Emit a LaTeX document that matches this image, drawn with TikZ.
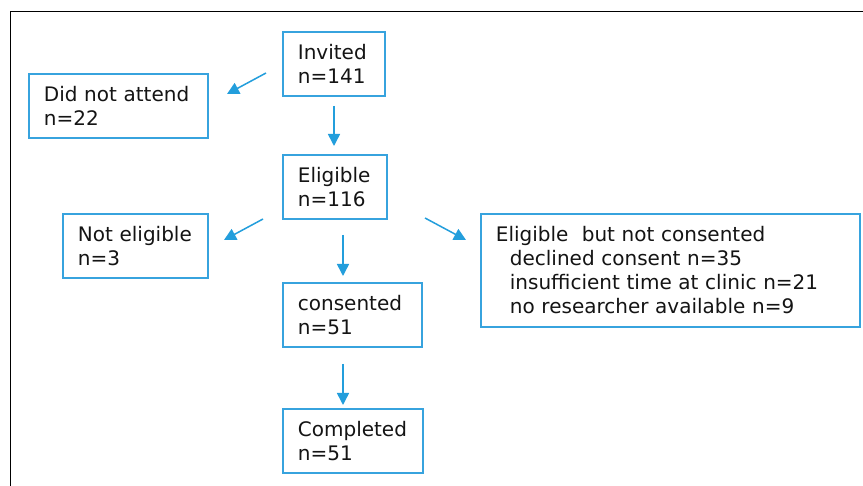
\documentclass[tikz,border=0pt]{standalone}
\usepackage{fontspec}
\setmainfont{DejaVu Sans}
\usetikzlibrary{arrows.meta}
\definecolor{boxblue}{RGB}{55,163,222}
\definecolor{arrblue}{RGB}{35,158,220}
\definecolor{txtgray}{RGB}{20,20,20}
\begin{document}
\begin{tikzpicture}[x=1pt,y=-1pt,
  flowbox/.style={draw=boxblue, line width=1.8pt, inner xsep=15pt, inner ysep=0pt,
    align=left, anchor=north west, font=\fontsize{20}{24}\selectfont, text=txtgray},
  arr/.style={draw=arrblue, line width=1.5pt, -{Triangle[length=12pt,width=12pt]}}]
\clip (0,0) rectangle (863,486);
\fill[white] (0,0) rectangle (863,486);
\draw[black, line width=1.8pt] (10.5,500) -- (10.5,11.5) -- (880,11.5);
% boxes
\node[flowbox, text width=72pt, minimum height=64pt] (inv) at (282,31) {Invited\\n=141};
\node[flowbox, text width=149pt, minimum height=64pt] (dna) at (28,73) {Did not attend\\n=22};
\node[flowbox, text width=74pt, minimum height=64pt] (elig) at (282,154) {Eligible\\n=116};
\node[flowbox, text width=115pt, minimum height=64pt] (nel) at (62,213) {Not eligible\\n=3};
\node[flowbox, text width=109pt, minimum height=64pt] (cons) at (282,282) {consented\\n=51};
\node[flowbox, text width=110pt, minimum height=64pt] (comp) at (282,408) {Completed\\n=51};
\node[flowbox, text width=349pt, minimum height=113pt] (ebnc) at (480,213)
  {Eligible\ \ but not consented\\
   \hspace*{14pt}declined consent n=35\\
   \hspace*{14pt}insufficient time at clinic n=21\\
   \hspace*{14pt}no researcher available n=9};
% connector ends
\coordinate (a1s) at (266,73);  \coordinate (a1e) at (227,94);
\coordinate (a2s) at (334,106); \coordinate (a2e) at (334,146);
\coordinate (a3s) at (263,219); \coordinate (a3e) at (224,240);
\coordinate (a4s) at (343,235); \coordinate (a4e) at (343,276);
\coordinate (a5s) at (343,364); \coordinate (a5e) at (343,405);
\coordinate (a6s) at (425,218); \coordinate (a6e) at (466,240);
\draw[arr] (a1s) -- (a1e);
\draw[arr] (a2s) -- (a2e);
\draw[arr] (a3s) -- (a3e);
\draw[arr] (a4s) -- (a4e);
\draw[arr] (a5s) -- (a5e);
\draw[arr] (a6s) -- (a6e);
\end{tikzpicture}
\end{document}
